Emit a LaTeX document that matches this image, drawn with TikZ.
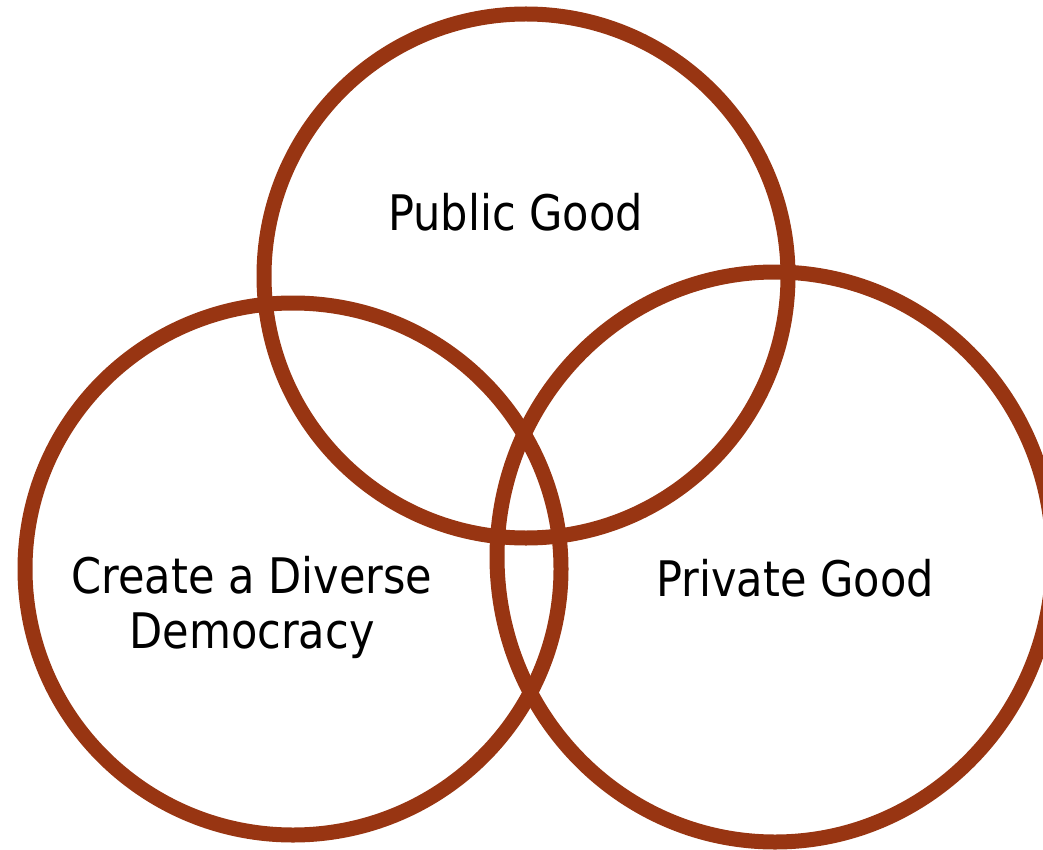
\documentclass[tikz,border=0pt]{standalone}
\usepackage{fontspec}
\setmainfont{DejaVu Sans}[FakeStretch=0.88]
\definecolor{ringbrown}{RGB}{152,53,18}

\begin{document}
\begin{tikzpicture}[x=1pt, y=-1pt,
    ring/.style={draw=ringbrown, line width=15pt},
    venntext/.style={anchor=base, align=center, font=\fontsize{49}{55}\selectfont}]

    % --- Canvas ---
    \useasboundingbox (0,0) rectangle (1043,850);

    % --- Circles ---
    \draw[ring] (526,276) circle (262pt);
    \draw[ring] (293,569) ellipse (268pt and 266pt);
    \draw[ring] (775,557) ellipse (278pt and 285pt);

    % --- Labels ---
    \node[venntext] (public) at (515.5,230) {Public Good};
    \node[venntext] (private) at (795,596) {Private Good};
    \node[venntext] (democracy) at (252,648) {Create a Diverse\\Democracy};

\end{tikzpicture}
\end{document}
